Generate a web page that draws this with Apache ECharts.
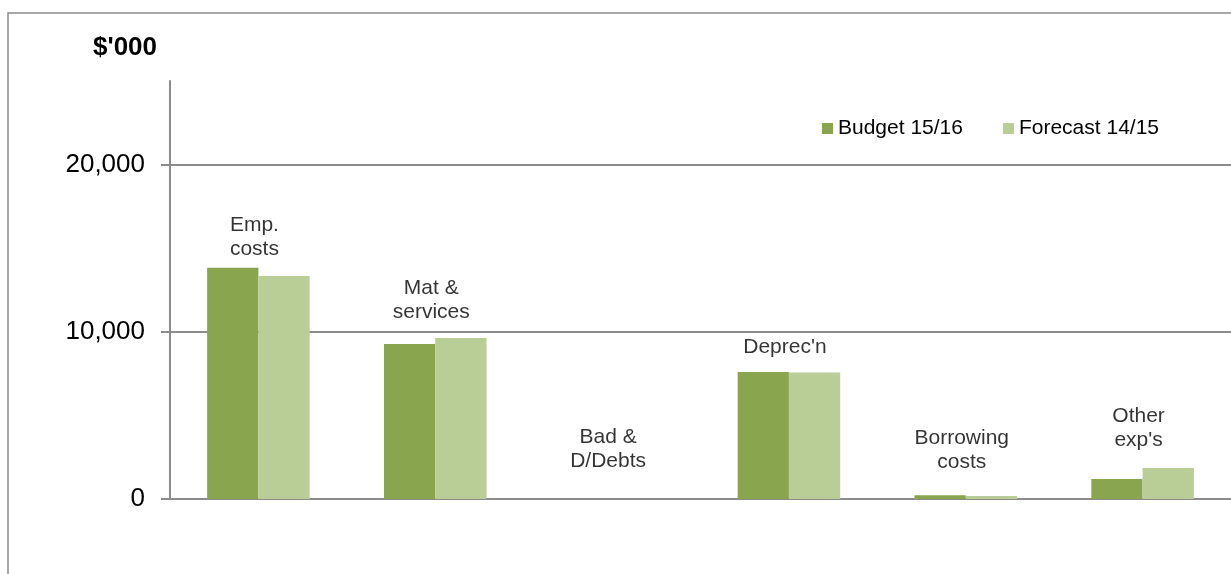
<!DOCTYPE html>
<html>
<head>
<meta charset="utf-8">
<title>Operating expenses by category</title>
<script src="https://cdn.jsdelivr.net/npm/echarts@6/dist/echarts.min.js"></script>
<style>
  html, body { margin: 0; padding: 0; background: #fff; }
  #chart { width: 1231px; height: 574px; }
</style>
</head>
<body>
<div id="chart"></div>
<script>
// Expense categories and their display labels
const categories = ['Emp. costs', 'Mat & services', 'Bad & D/Debts', "Deprec'n", 'Borrowing costs', "Other exp's"];
const categoryLabels = ['Emp.\ncosts', 'Mat &\nservices', 'Bad &\nD/Debts', "Deprec'n", 'Borrowing\ncosts', "Other\nexp's"];

// Values in $'000
const budget1516 = [13830, 9270, 0, 7600, 220, 1200];
const forecast1415 = [13330, 9630, 0, 7570, 180, 1860];

// Height (in $'000) where each category caption sits
const labelLevel = [15630, 11910, 3000, 9050, 2910, 4220];

// Y axis tick values
const yTicks = [0, 10000, 20000];

const FONT = 'Liberation Sans, Arial, Helvetica, sans-serif';
const GREY = '#8c8c8c';

const chart = echarts.init(document.getElementById('chart'), null, { renderer: 'canvas' });

chart.setOption({
  animation: false,
  backgroundColor: '#fff',
  textStyle: { fontFamily: FONT },
  graphic: [
    {
      type: 'rect',
      shape: { x: 8, y: 13, width: 1400, height: 800 },
      style: { fill: 'none', stroke: GREY, lineWidth: 1.5 },
      silent: true,
      z: -1
    },
    {
      type: 'text',
      left: 93,
      top: 35,
      style: { text: "$'000", font: 'bold 26px ' + FONT, fill: '#000' },
      silent: true
    }
  ],
  legend: {
    data: ['Budget 15/16', 'Forecast 14/15'],
    left: 817,
    top: 113,
    icon: 'rect',
    itemWidth: 11,
    itemHeight: 11,
    itemGap: 40,
    textStyle: { fontSize: 21, color: '#000', fontFamily: FONT },
    selectedMode: false
  },
  grid: { left: 170, right: -2, top: 81, bottom: 75, containLabel: false },
  xAxis: {
    type: 'category',
    data: categories,
    axisLine: { show: true, lineStyle: { color: GREY, width: 2 } },
    axisTick: { show: false },
    axisLabel: { show: false },
    splitLine: { show: false }
  },
  yAxis: {
    type: 'value',
    min: 0,
    max: 25000,
    interval: 10000,
    axisLine: { show: true, lineStyle: { color: GREY, width: 2 } },
    axisTick: {
      show: true,
      length: 9,
      customValues: yTicks,
      lineStyle: { color: GREY, width: 2 }
    },
    axisLabel: {
      customValues: yTicks,
      margin: 25,
      fontSize: 26,
      color: '#000',
      fontFamily: FONT,
      formatter: v => (yTicks.indexOf(v) >= 0 ? v.toLocaleString('en-US') : '')
    },
    splitLine: {
      show: true,
      lineStyle: { color: GREY, width: 2 }
    }
  },
  series: [
    {
      name: 'Budget 15/16',
      type: 'bar',
      data: budget1516,
      barGap: '0%',
      barCategoryGap: '42%',
      itemStyle: { color: '#89A54E' }
    },
    {
      name: 'Forecast 14/15',
      type: 'bar',
      data: forecast1415,
      itemStyle: { color: '#B9CE96' }
    },
    {
      name: 'captions',
      type: 'scatter',
      data: labelLevel,
      symbolSize: 0,
      silent: true,
      label: {
        show: true,
        position: 'inside',
        offset: [-4, 0],
        formatter: p => categoryLabels[p.dataIndex],
        fontSize: 21,
        lineHeight: 24,
        color: '#000',
        textBorderWidth: 0,
        fontFamily: FONT,
        align: 'center'
      },
      z: 5
    }
  ]
});
</script>
</body>
</html>
